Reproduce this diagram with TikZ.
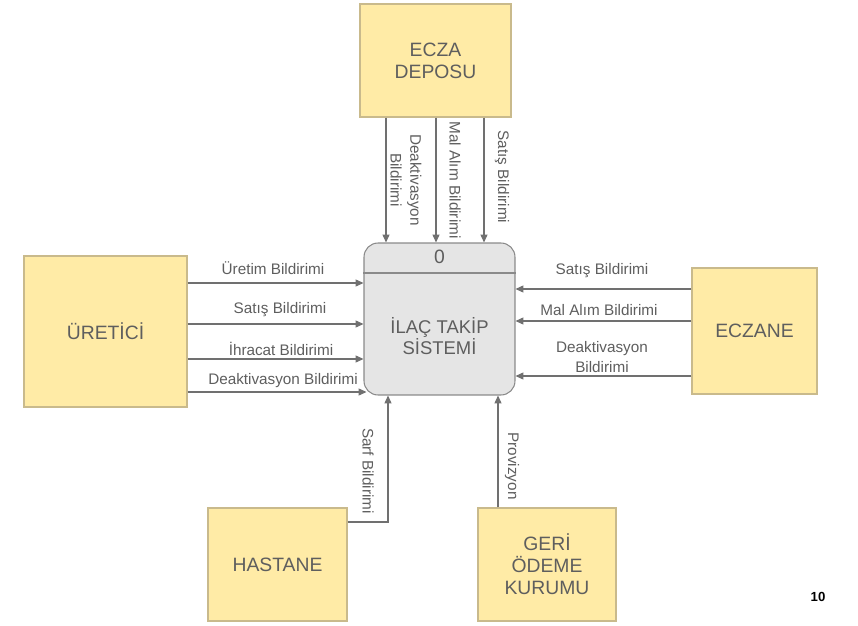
\documentclass[tikz,border=0pt]{standalone}
\usepackage{fontspec}
\setmainfont{Liberation Sans}
\usetikzlibrary{arrows.meta}

\definecolor{kutu}{HTML}{FFEBA6}
\definecolor{kenar}{HTML}{C9BA8C}
\definecolor{surec}{HTML}{E5E5E5}
\definecolor{surecKenar}{HTML}{8A8A8A}
\definecolor{yazi}{HTML}{5E5E5E}
\definecolor{ok}{HTML}{707070}

\begin{document}
\begin{tikzpicture}[
  x=0.02cm, y=-0.02cm,
  entity/.style={draw=kenar, line width=0.6pt, fill=kutu, text=yazi, align=center,
    inner sep=0pt, font=\fontsize{11}{12.5}\selectfont},
  process/.style={draw=surecKenar, line width=0.6pt, fill=surec, rounded corners=0.28cm,
    minimum width=3.02cm, minimum height=3.04cm, inner sep=0pt},
  flow/.style={draw=ok, line width=0.6pt, -{Triangle[length=4.5pt,width=4pt]}},
  lbl/.style={text=yazi, align=center, inner sep=0pt, font=\fontsize{8.7}{11.2}\selectfont}
]
\useasboundingbox (0,0) rectangle (858,625);

% dis varliklar
\node[entity, minimum width=3.02cm, minimum height=2.26cm] (depo) at (435.5,60.5) {ECZA\\DEPOSU};
\node[entity, minimum width=3.26cm, minimum height=3.02cm] (uretici) at (105.5,331.5) {ÜRETİCİ};
\node[entity, minimum width=2.5cm, minimum height=2.52cm] (eczane) at (754.5,331) {ECZANE};
\node[entity, minimum width=2.78cm, minimum height=2.26cm] (hastane) at (277.5,564.5) {HASTANE};
\node[entity, minimum width=2.76cm, minimum height=2.26cm] (sgk) at (547,564.5) {GERİ\\ÖDEME\\KURUMU};

% surec
\node[process] (sistem) at (439.5,319) {};
\draw[surecKenar, line width=0.6pt] (sistem.west |- 0,273) -- (sistem.east |- 0,273);
\node[text=yazi, font=\fontsize{11}{12}\selectfont] (no) at (439.5,257) {0};
\node[text=yazi, align=center, font=\fontsize{10.5}{11.5}\selectfont] (ad) at (439.5,336) {İLAÇ TAKİP\\SİSTEMİ};

% ecza deposu
\draw[flow] (depo.south -| 386,0) -- (sistem.north -| 386,0);
\draw[flow] (depo.south -| 436,0) -- (sistem.north -| 436,0);
\draw[flow] (depo.south -| 484,0) -- (sistem.north -| 484,0);
\node[lbl, rotate=-90] (d1) at (406,180) {Deaktivasyon\\Bildirimi};
\node[lbl, rotate=-90] (d2) at (455,180) {Mal Alım Bildirimi};
\node[lbl, rotate=-90] (d3) at (502,177) {Satış Bildirimi};

% uretici
\draw[flow] (uretici.east |- 0,283) -- (sistem.west |- 0,283);
\draw[flow] (uretici.east |- 0,324) -- (sistem.west |- 0,324);
\draw[flow] (uretici.east |- 0,359) -- (sistem.west |- 0,359);
\draw[flow] (uretici.east |- 0,392) -- ([xshift=0.06cm]sistem.west |- 0,392);
\node[lbl] (u1) at (273,268) {Üretim Bildirimi};
\node[lbl] (u2) at (280,310) {Satış Bildirimi};
\node[lbl] (u3) at (281,349) {İhracat Bildirimi};
\node[lbl] (u4) at (283,381) {Deaktivasyon Bildirimi};

% eczane
\draw[flow] (eczane.west |- 0,289) -- (sistem.east |- 0,289);
\draw[flow] (eczane.west |- 0,321) -- (sistem.east |- 0,321);
\draw[flow] (eczane.west |- 0,376) -- (sistem.east |- 0,376);
\node[lbl] (e1) at (602,271) {Satış Bildirimi};
\node[lbl] (e2) at (599,310) {Mal Alım Bildirimi};
\node[lbl] (e3) at (602,357) {Deaktivasyon\\Bildirimi};

% hastane, geri odeme
\draw[flow] (hastane.east |- 0,522) -| (sistem.south -| 388,0);
\draw[flow] (sgk.north -| 498,0) -- (sistem.south -| 498,0);
\node[lbl, rotate=-90] (h1) at (368,471) {Sarf Bildirimi};
\node[lbl, rotate=-90] (g1) at (512,466) {Provizyon};

\node[font=\bfseries\fontsize{7.5}{9}\selectfont] (sayfa) at (818,597) {10};
\end{tikzpicture}
\end{document}
